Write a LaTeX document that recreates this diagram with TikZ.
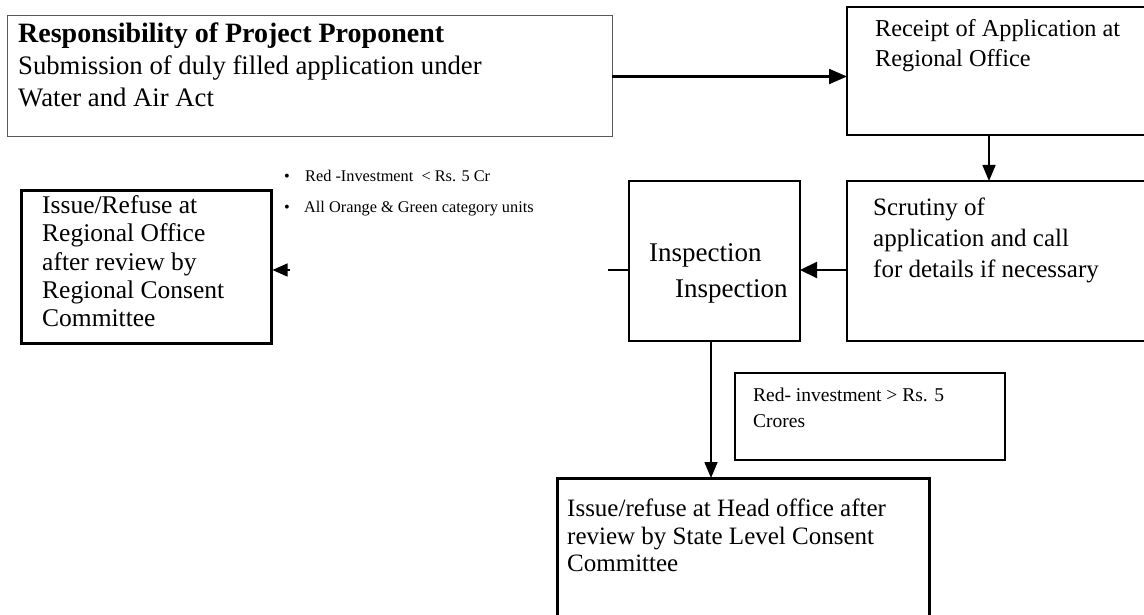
\documentclass[tikz,border=0pt]{standalone}
\usepackage{fontspec}
\setmainfont{Liberation Serif}
\usetikzlibrary{arrows.meta}
\begin{document}
\begin{tikzpicture}[x=1pt, y=-1pt,
  box/.style={draw, rectangle, anchor=north west, inner sep=0pt, outer sep=0pt, line width=1.3pt},
  bigbox/.style={box, line width=3pt},
  txt/.style={anchor=north west, inner sep=0pt, align=left},
  arr/.style={-{Triangle[length=16pt, width=13pt]}, line width=1.5pt}]
\useasboundingbox (0,0) rectangle (1144,615);
\clip (0,0) rectangle (1144,615);
% boxes
\node[box, draw=black!65, line width=1pt, minimum width=605pt, minimum height=121pt] (prop) at (7,16){};
\node[box, minimum width=310pt, minimum height=128pt] (rec) at (847,7){};
\node[box, minimum width=310pt, minimum height=160pt] (scr) at (847,181){};
\node[box, minimum width=171pt, minimum height=160pt] (insp) at (629,181){};
\node[bigbox, minimum width=250pt, minimum height=152pt] (rro) at (21,191){};
\node[box, line width=1.2pt, minimum width=270pt, minimum height=87pt] (red) at (735,373){};
\node[bigbox, minimum width=372pt, minimum height=160pt] (hqo) at (557,478){};
% texts
\node[txt, font=\fontsize{26.7}{32}\selectfont] (propt) at (18,22.5)
  {{\fontsize{28}{32}\selectfont\textbf{Responsibility of Project Proponent}}\\Submission of duly filled application under\\Water and Air Act};
\node[txt, font=\fontsize{24.3}{30}\selectfont] (rect) at (875,19)
  {Receipt of Application at\\Regional Office};
\node[txt, font=\fontsize{25}{31}\selectfont] (scrt) at (873,198)
  {Scrutiny of\\application and call\\for details if necessary};
\node[txt, font=\fontsize{27}{36}\selectfont] (inspt) at (649,243.5)
  {Inspection\\\hspace*{26pt}Inspection};
\node[txt, font=\fontsize{25.5}{28.3}\selectfont] (rrot) at (42,195.5)
  {Issue/Refuse at\\Regional Office\\after review by\\Regional Consent\\Committee};
\node[txt, font=\fontsize{19.5}{26}\selectfont] (redt) at (753,388)
  {Red- investment > Rs. 5\\Crores};
\node[txt, font=\fontsize{25}{27.5}\selectfont] (hqot) at (567,499)
  {Issue/refuse at Head office after\\review by State Level Consent\\Committee};
\node[txt, font=\fontsize{16.3}{31}\selectfont] (cond) at (284,170)
  {\makebox[20pt][l]{\textbullet}\hspace*{1pt}Red -Investment \ < Rs. 5 Cr\\
   \makebox[20pt][l]{\textbullet}All Orange \& Green category units};
% connectors
\coordinate (rs) at (989,0);
\coordinate (mid) at (0,270);
\coordinate (tail) at (290,270);
\coordinate (dn) at (711,0);
\draw[arr, line width=2.2pt, -{Triangle[length=18pt, width=15pt]}] (prop.east) -- (prop.east -| rec.west);
\draw[arr] (rec.south -| rs) -- (scr.north -| rs);
\draw[arr, line width=2.2pt, -{Triangle[length=17pt, width=16pt]}] (scr.west |- mid) -- (insp.east |- mid);
\draw[line width=1.3pt] (insp.west |- mid) -- ++(-21,0);
\draw[arr, line width=1.3pt, shorten >=1.5pt, -{Triangle[length=15pt, width=13pt]}] (tail) -- (rro.east |- tail);
\draw[arr] (insp.south -| dn) -- (hqo.north -| dn);
\end{tikzpicture}
\end{document}
